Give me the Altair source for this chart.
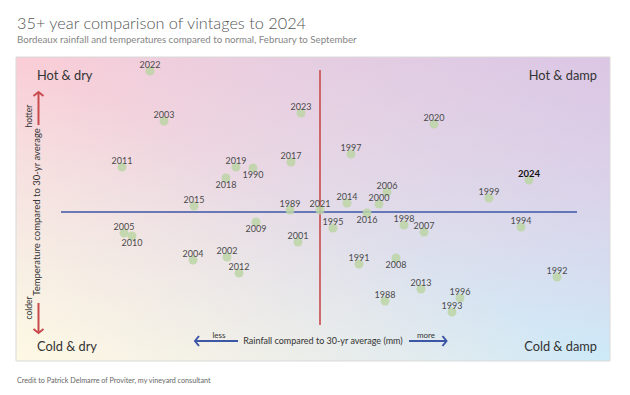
import altair as alt
import pandas as pd

# ---- data ----
years = [2022, 2003, 2011, 2019, 1990, 2018, 2017, 2023, 2015, 1989, 2021,
         2020, 1997, 2024, 2006, 2014, 2000, 1999, 2016, 2005, 2010, 2009,
         2001, 2004, 2002, 2012, 1995, 1998, 2007, 1994, 1991, 2008, 1992,
         2013, 1988, 1996, 1993]
rain = [-136.0, -124.8, -158.4, -67.2, -53.6, -75.2, -23.2, -15.2, -100.8, -24.0, 0.0,
        91.2, 24.8, 167.2, 53.6, 21.6, 47.2, 135.2, 37.6, -156.8, -150.4, -51.2,
        -17.6, -101.6, -74.4, -64.8, 10.4, 67.2, 83.2, 160.8, 31.2, 60.8, 189.6,
        80.8, 52.0, 112.0, 105.6]
temp = [2.82, 1.82, 0.90, 0.90, 0.88, 0.68, 1.00, 1.98, 0.12, 0.04, 0.04,
        1.76, 1.16, 0.64, 0.40, 0.18, 0.16, 0.28, -0.02, -0.42, -0.48, -0.20,
        -0.60, -0.96, -0.90, -1.22, -0.32, -0.26, -0.40, -0.30, -1.04, -0.92, -1.30,
        -1.54, -1.78, -1.72, -2.00]
below_years = [1990, 2018, 2016, 2010, 2009, 2008]
highlight_year = 2024

rain_domain = [-243.2, 232.0]
temp_domain = [-2.98, 3.1]
vline_temp = [2.84, -2.26]
hline_rain = [-207.2, 205.6]

title = "35+ year comparison of vintages to 2024"
subtitle = "Bordeaux rainfall and temperatures compared to normal, February to September"
credit = "Credit to Patrick Delmarre of Proviter, my vineyard consultant"
quadrants = ["Hot & dry", "Hot & damp", "Cold & dry", "Cold & damp"]
x_label = "Rainfall compared to 30-yr average (mm)"
y_label = "Temperature compared to 30-yr average"
x_less, x_more = "less", "more"
y_hot, y_cold = "hotter", "colder"

W, H = 594, 304
FONT = "Lato"
RED = "#c94a4c"
BLUE = "#3d56a6"

df = pd.DataFrame({"year": years, "rain": rain, "temp": temp})
df["label"] = df["year"].astype(str)
df["pos"] = ["below" if y in below_years else "above" for y in years]

xs = alt.Scale(domain=rain_domain, nice=False, zero=False)
ys = alt.Scale(domain=temp_domain, nice=False, zero=False)
X = lambda f: alt.X(f, type="quantitative", scale=xs, axis=None)
Y = lambda f: alt.Y(f, type="quantitative", scale=ys, axis=None)

one = alt.Data(values=[{"a": 1}])

grad_main = alt.Gradient(
    gradient="linear", x1=0, y1=0, x2=1, y2=1,
    stops=[alt.GradientStop(color="#fbcdd6", offset=0),
           alt.GradientStop(color="#cdeaf9", offset=1)])
grad_cross = alt.Gradient(
    gradient="linear", x1=0, y1=1, x2=1, y2=0,
    stops=[alt.GradientStop(color="rgba(254,249,228,1)", offset=0),
           alt.GradientStop(color="rgba(254,249,228,0)", offset=0.5),
           alt.GradientStop(color="rgba(218,196,228,0)", offset=0.5),
           alt.GradientStop(color="rgba(218,196,228,0.9)", offset=1)])

box = dict(x=alt.value(0), x2=alt.value(W), y=alt.value(0), y2=alt.value(H))
bg1 = alt.Chart(one).mark_rect(fill=grad_main).encode(**box)
bg2 = alt.Chart(one).mark_rect(fill=grad_cross).encode(**box)
border = alt.Chart(one).mark_rect(fillOpacity=0, stroke="#d9d9d9", strokeWidth=1).encode(**box)

vdf = pd.DataFrame({"rain": [0.0], "t1": [vline_temp[0]], "t2": [vline_temp[1]]})
hdf = pd.DataFrame({"temp": [0.0], "r1": [hline_rain[0]], "r2": [hline_rain[1]]})
vline = alt.Chart(vdf).mark_rule(color=RED, strokeWidth=1.6).encode(
    x=X("rain"), y=Y("t1"), y2="t2")
hline = alt.Chart(hdf).mark_rule(color=BLUE, strokeWidth=1.6).encode(
    y=Y("temp"), x=X("r1"), x2="r2")

base = alt.Chart(df)
dots = base.mark_circle(size=80, color="#bcd5a6", opacity=0.85).encode(
    x=X("rain"), y=Y("temp"))
lab_above = base.transform_filter(
    (alt.datum.pos == "above") & (alt.datum.year != highlight_year)
).mark_text(font=FONT, fontSize=9, color="#4a4a4a", dy=-6, baseline="middle").encode(
    x=X("rain"), y=Y("temp"), text="label:N")
lab_below = base.transform_filter(alt.datum.pos == "below").mark_text(
    font=FONT, fontSize=9, color="#4a4a4a", dy=6.5, baseline="middle").encode(
    x=X("rain"), y=Y("temp"), text="label:N")
lab_hl = base.transform_filter(alt.datum.year == highlight_year).mark_text(
    font=FONT, fontSize=9.5, fontWeight="bold", color="#111", dy=-6,
    baseline="middle").encode(x=X("rain"), y=Y("temp"), text="label:N")


def txt(s, x, y, size, color="#333", align="left", angle=0, weight="normal",
        baseline="alphabetic"):
    return alt.Chart(one).mark_text(
        text=s, font=FONT, fontSize=size, color=color, align=align,
        angle=angle, fontWeight=weight, baseline=baseline
    ).encode(x=alt.value(x), y=alt.value(y))


def seg(x1, y1, x2, y2, color):
    return alt.Chart(one).mark_rule(color=color, strokeWidth=2).encode(
        x=alt.value(x1), y=alt.value(y1), x2=alt.value(x2), y2=alt.value(y2))


def head(x, y, shape, color):
    return alt.Chart(one).mark_point(
        shape=shape, filled=False, stroke=color, strokeWidth=2, size=100, opacity=1
    ).encode(x=alt.value(x), y=alt.value(y))


ann = [
    txt(title, 1, -28, 16.3, color="#555", weight=300),
    txt(subtitle, 1, -14, 9.7, color="#858585"),
    txt(credit, 1, 326, 7.2, color="#666"),
    txt(quadrants[0], 21, 23, 12.8),
    txt(quadrants[1], 581, 23, 12.8, align="right"),
    txt(quadrants[2], 21, 294, 12.8),
    txt(quadrants[3], 581, 294, 12.8, align="right"),
    txt(y_label, 21, 155, 9.5, angle=270, align="center", baseline="middle"),
    txt(y_hot, 13, 59, 8.5, angle=270, align="center", baseline="middle"),
    txt(y_cold, 13, 251, 8.5, angle=270, align="center", baseline="middle"),
    txt(x_label, 307, 284, 9, align="center", baseline="middle"),
    txt(x_less, 203, 279, 8, align="center", baseline="middle"),
    txt(x_more, 410, 279, 8, align="center", baseline="middle"),
    seg(22.5, 35, 22.5, 68, RED),
    head(22.5, 35, "M-1,0.8L0,0L1,0.8", RED),
    seg(22.5, 246, 22.5, 276, RED),
    head(22.5, 276, "M-1,-0.8L0,0L1,-0.8", RED),
    seg(179, 284, 222, 284, BLUE),
    head(179, 284, "M0.8,-1L0,0L0.8,1", BLUE),
    seg(393, 284, 430.5, 284, BLUE),
    head(430.5, 284, "M-0.8,-1L0,0L-0.8,1", BLUE),
]

chart = alt.layer(
    bg1, bg2, border, vline, hline, dots, lab_above, lab_below, lab_hl, *ann
).properties(
    width=W, height=H,
    padding={"left": 8, "top": 49, "right": 12, "bottom": 30},
    autosize=alt.AutoSizeParams(type="none"),
).configure_view(stroke=None)

chart.save("out.html", embed_options={"renderer": "svg", "actions": False})
